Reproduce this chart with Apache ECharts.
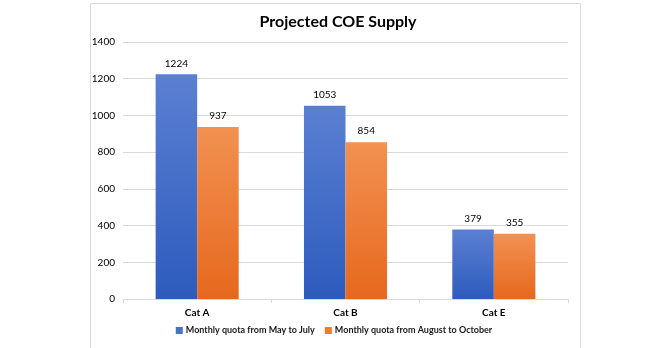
<!DOCTYPE html>
<html>
<head>
<meta charset="utf-8">
<script src="https://cdn.jsdelivr.net/npm/echarts@6/dist/echarts.min.js"></script>
<style>
  html, body { margin: 0; padding: 0; background: #fff; }
  #chart { width: 668px; height: 348px; }
</style>
</head>
<body>
<div id="chart"></div>
<script>
const categories = ['Cat A', 'Cat B', 'Cat E'];
const mayToJuly = [1224, 1053, 379];
const augToOct = [937, 854, 355];
const yTicks = { min: 0, max: 1400, interval: 200 };
const seriesNames = ['Monthly quota from May to July', 'Monthly quota from August to October'];

const font = 'Lato, "Open Sans", sans-serif';

function grad(top, bottom) {
  return new echarts.graphic.LinearGradient(0, 0, 0, 1, [
    { offset: 0, color: top },
    { offset: 1, color: bottom }
  ]);
}

const chart = echarts.init(document.getElementById('chart'), null, { renderer: 'canvas' });
chart.setOption({
  animation: false,
  textStyle: { fontFamily: font },
  graphic: [{
    type: 'rect',
    left: 88, top: 1,
    shape: { width: 490, height: 345 },
    style: { fill: 'none', stroke: '#d9d9d9', lineWidth: 1 },
    silent: true
  }],
  title: {
    text: 'Projected COE Supply',
    left: 333, top: 9, textAlign: 'center',
    textStyle: { fontFamily: font, fontWeight: 'bold', fontSize: 16, color: '#000' }
  },
  legend: {
    bottom: 8, left: 'center',
    itemWidth: 7, itemHeight: 7, itemGap: 10,
    icon: 'rect',
    textStyle: { fontFamily: font, fontSize: 9, fontWeight: 'bold', color: '#1a1a1a', padding: [0, 0, 0, -2] },
    data: [
      { name: seriesNames[0], itemStyle: { color: '#4472c4' } },
      { name: seriesNames[1], itemStyle: { color: '#ed7d31' } }
    ]
  },
  grid: { left: 123, right: 100, top: 42, bottom: 49, containLabel: false },
  xAxis: {
    type: 'category',
    data: categories,
    axisLine: { lineStyle: { color: '#d9d9d9' } },
    axisTick: { show: true, length: 4, lineStyle: { color: '#d9d9d9' } },
    axisLabel: { color: '#000', fontSize: 10, fontWeight: 'bold', margin: 9, fontFamily: font }
  },
  yAxis: {
    type: 'value',
    min: yTicks.min, max: yTicks.max, interval: yTicks.interval,
    axisLine: { show: false },
    axisTick: { show: false },
    axisLabel: { color: '#000', fontSize: 10, margin: 8, fontFamily: font, formatter: v => String(v) },
    splitLine: { lineStyle: { color: '#d9d9d9' } }
  },
  series: [
    {
      name: seriesNames[0], type: 'bar', data: mayToJuly,
      barGap: '0%', barCategoryGap: '44%',
      itemStyle: { color: grad('#5b80d2', '#2d5bbd') },
      label: { show: true, position: 'top', distance: 6, color: '#000', fontSize: 10, fontFamily: font }
    },
    {
      name: seriesNames[1], type: 'bar', data: augToOct,
      itemStyle: { color: grad('#f29152', '#e6681d') },
      label: { show: true, position: 'top', distance: 6, color: '#000', fontSize: 10, fontFamily: font }
    }
  ]
});
</script>
</body>
</html>
